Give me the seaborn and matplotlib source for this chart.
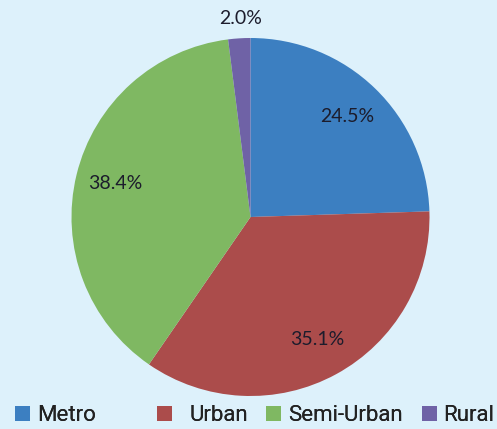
import numpy as np
import matplotlib.pyplot as plt
import seaborn as sns

# datos del gráfico
categorias = ["Metro", "Urban", "Semi-Urban", "Rural"]
porcentajes = [24.5, 35.1, 38.4, 2.0]
colores = ["#3c7fc1", "#ab4c4b", "#7fb862", "#6f62a6"]
fondo = "#ddf1fb"

sns.set_style("white")
plt.rcParams['font.family'] = ['DejaVu Sans']

W, H = 497, 429
fig = plt.figure(figsize=(W / 100, H / 100), dpi=100, facecolor=fondo)

# centro del pie (250.5, 217) px, radio 179 px
cx, cy, R = 250.5, 429 - 217, 179
half = 205
ax = fig.add_axes([(cx - half) / W, (cy - half) / H, 2 * half / W, 2 * half / H])
ax.set_facecolor(fondo)

wedges, textos, autotextos = ax.pie(
    porcentajes, colors=colores, startangle=90, counterclock=False,
    autopct='%1.1f%%', pctdistance=0.78, radius=1.0,
    wedgeprops=dict(linewidth=0),
    textprops=dict(fontsize=14, color='#1c1c2c', family=['Lato', 'DejaVu Sans']))

# etiqueta de la porción pequeña fuera del pie
for w, t, p in zip(wedges, autotextos, porcentajes):
    if p < 5:
        ang = np.deg2rad((w.theta1 + w.theta2) / 2)
        t.set_position((1.11 * np.cos(ang) + 0.015, 1.11 * np.sin(ang)))

lim = half / R
ax.set_xlim(-lim, lim)
ax.set_ylim(-lim, lim)
ax.axis('off')

# leyenda: un elemento por bloque, como en el original
pos_x = [15, 157, 266, 422]
pads = [0.3, 0.8, 0.3, 0.28]
for w, nombre, x0, pad in zip(wedges, categorias, pos_x, pads):
    leg = fig.legend([w], [nombre], loc='lower left',
                     bbox_to_anchor=(x0 / W, 0.006), frameon=False,
                     borderpad=0, borderaxespad=0,
                     handlelength=0.68, handleheight=0.68, handletextpad=pad,
                     prop=dict(family=['Roboto', 'DejaVu Sans'], size=16))
    for t in leg.get_texts():
        t.set_color('#222222')
    fig.add_artist(leg)

fig.savefig('out.png', dpi=100, facecolor=fondo)
